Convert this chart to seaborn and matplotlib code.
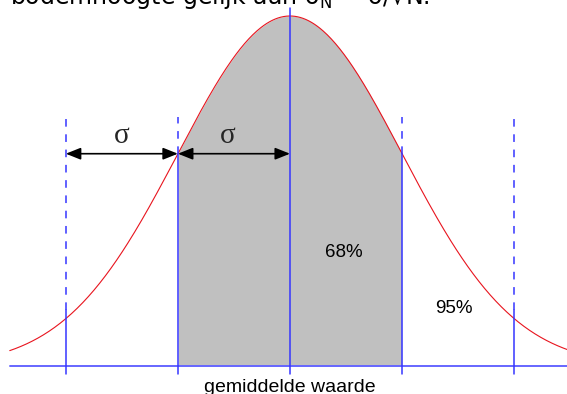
import numpy as np
import pandas as pd
import matplotlib.pyplot as plt
import seaborn as sns

# Normal distribution sketch (in units of sigma)
mean = 0.0
sigma = 1.0
curve_range = (-2.5, 2.5)
sigma_lines = [-2, -1, 0, 1, 2]
dash_top = 0.711
inner_labels = ["68%", "95%"]
sigma_label = "σ"
x_label = "gemiddelde waarde"
top_text = "bodemhoogte gelijk aan σ$_\\mathrm{N}$ = σ/√N."

x = np.linspace(curve_range[0], curve_range[1], 400)
y = np.exp(-0.5 * ((x - mean) / sigma) ** 2)
df = pd.DataFrame({"x": x, "y": y})

sns.set_theme(style="white")
plt.rcParams["font.family"] = ["Liberation Sans", "DejaVu Sans"]

fig = plt.figure(figsize=(5.67, 3.94), dpi=100)
ax = fig.add_axes([0, 0, 1, 1])
ax.set_xlim(-2.587, 2.471)
ax.set_ylim(-0.08, 1.0457)
ax.axis("off")

# gray area within one sigma
inside = df[(df.x >= mean - sigma) & (df.x <= mean + sigma)]
ax.fill_between(inside.x, 0, inside.y, color="#c0c0c0", lw=0)

sns.lineplot(data=df, x="x", y="y", ax=ax, color="#e8141e", lw=0.8)

# baseline
ax.plot([curve_range[0], 2.6], [0, 0], color="#6666ff", lw=1.4)

blue = "#3535ff"
for k in sigma_lines:
    xv = mean + k * sigma
    hv = np.exp(-0.5 * k ** 2)
    if k == 0:
        ax.plot([xv, xv], [-0.023, 1.023], color=blue, lw=1.1)
        continue
    solid_top = hv if abs(k) == 1 else hv + 0.025
    ax.plot([xv, xv], [-0.023, solid_top], color=blue, lw=1.1)
    ax.plot([xv, xv], [solid_top, dash_top], color=blue, lw=1.1,
            linestyle=(0, (5, 5)))

# sigma arrows
arr_y = np.exp(-0.5)
for a, b in [(-2, -1), (-1, 0)]:
    ax.annotate("", xy=(b, arr_y), xytext=(a, arr_y),
                arrowprops=dict(arrowstyle="<|-|>,head_length=0.75,head_width=0.3",
                                color="black", lw=1.2, shrinkA=0, shrinkB=0))
ax.text(-1.5, 0.657, sigma_label, ha="center", va="center", fontsize=21,
        family="Liberation Serif")
ax.text(-0.553, 0.657, sigma_label, ha="center", va="center", fontsize=21,
        family="Liberation Serif")

ax.text(0.48, 0.323, inner_labels[0], ha="center", va="center", fontsize=13.5,
        color="black")
ax.text(1.463, 0.163, inner_labels[1], ha="center", va="center", fontsize=13.5,
        color="black")
ax.text(0, -0.074, x_label, ha="center", va="baseline", fontsize=14,
        color="black")

ax.text(-2.5, 1.034, top_text, ha="left", va="baseline", fontsize=17,
        family="DejaVu Sans", color="black")

fig.savefig("out.png", dpi=100)
